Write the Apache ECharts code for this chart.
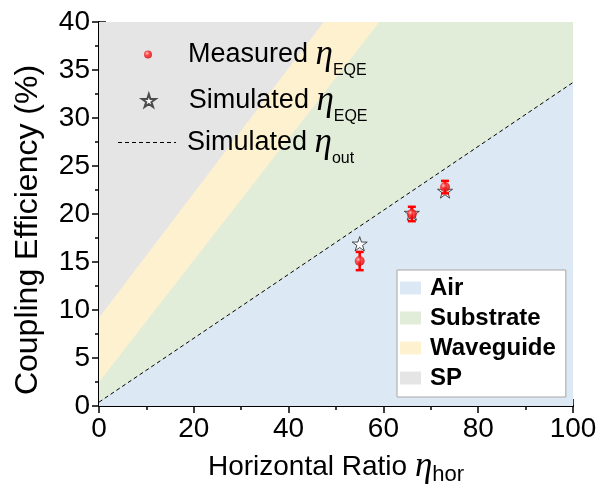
<!DOCTYPE html>
<html>
<head>
<meta charset="utf-8">
<script src="https://cdn.jsdelivr.net/npm/echarts@6/dist/echarts.min.js"></script>
<style>
html, body { margin: 0; padding: 0; background: #fff; }
#chart { width: 615px; height: 491px; }
</style>
</head>
<body>
<div id="chart"></div>
<script>
// measured / simulated points
const ratio = [55, 66, 73];
const measured = [15.1, 20.0, 22.8];
const measuredErr = [0.95, 0.75, 0.65];
const simulated = [16.9, 20.1, 22.4];

// region boundaries, evaluated at x = 0 and x = 100
const boundaryX = [0, 100];
const airTop = [0.4, 33.7];        // also the simulated eta_out line
const substrateTop = [2.5, 65.9];
const waveguideTop = [9.2, 74.2];
const spTop = [40, 40];

const xTicks = [0, 20, 40, 60, 80, 100];
const yTicks = [0, 5, 10, 15, 20, 25, 30, 35, 40];

const SANS = "Liberation Sans, Arial, sans-serif";
const SERIF = "Liberation Serif, Times New Roman, serif";
const STAR = "path://M50,2 L61.2,36.6 L97.6,36.6 L68.2,58 L79.4,92.6 L50,71.2 L20.6,92.6 L31.8,58 L2.4,36.6 L38.8,36.6 Z";
// short dashes for the legend icon of the dashed line
const DASH = "path://M0,0h4v1h-4z M7,0h4v1h-4z M14,0h4v1h-4z M21,0h4v1h-4z M28,0h4v1h-4z M35,0h4v1h-4z M42,0h4v1h-4z M49,0h4v1h-4z M56,0h2v1h-2z";

function pairs(ys) {
  return boundaryX.map((x, i) => [x, ys[i]]);
}

function regionSeries(name, ys, color) {
  return {
    name: name,
    type: "line",
    data: pairs(ys),
    symbol: "none",
    itemStyle: { color: color },
    lineStyle: { width: 0, color: color },
    areaStyle: { color: color, opacity: 1 },
    silent: true
  };
}

const chart = echarts.init(document.getElementById("chart"));

const topRich = {
  m: { fontSize: 27, lineHeight: 48, fontFamily: SANS, color: "#000", padding: [0, 0, 0, 6] },
  eta: { fontSize: 35, lineHeight: 48, fontFamily: SERIF, fontStyle: "italic", color: "#000" },
  sub: { fontSize: 16, lineHeight: 16, fontFamily: SANS, color: "#000", verticalAlign: "bottom" }
};

// left is the left edge of the drawn icon (legend aligns its bounding box)
function topLegend(name, icon, label, sub, left, top, h) {
  return {
    data: [{ name: name, icon: icon }],
    left: left,
    top: top,
    padding: 0,
    itemWidth: 58,
    itemHeight: h,
    selectedMode: false,
    formatter: () => "{m|" + label + " }{eta|η}{sub|" + sub + "}",
    textStyle: { rich: topRich }
  };
}

const axisCommon = {
  axisLine: { lineStyle: { color: "#000", width: 2 } },
  axisTick: { inside: true, length: 7, lineStyle: { color: "#000", width: 1.5 } },
  minorTick: { show: true, splitNumber: 2, length: 4, lineStyle: { color: "#000", width: 1.5 } },
  splitLine: { show: false }
};

chart.setOption({
  animation: false,
  backgroundColor: "#fff",
  grid: { left: 99, top: 22, width: 474, height: 384 },
  xAxis: [
    Object.assign({
      type: "value", min: xTicks[0], max: xTicks[xTicks.length - 1], interval: 20,
      name: "Horizontal Ratio {eta|η}{sub|hor}",
      nameLocation: "middle",
      nameGap: 35,
      nameTextStyle: {
        fontSize: 28, lineHeight: 38, fontFamily: SANS, color: "#000",
        rich: {
          eta: { fontSize: 35, lineHeight: 38, fontFamily: SERIF, fontStyle: "italic", color: "#000" },
          sub: { fontSize: 22, lineHeight: 22, fontFamily: SANS, color: "#000", verticalAlign: "bottom" }
        }
      },
      axisLabel: { fontSize: 28, fontFamily: SANS, color: "#000", margin: 9 }
    }, axisCommon),
    Object.assign({
      type: "value", position: "top", min: 0, max: 100, interval: 20,
      axisLabel: { show: false }
    }, axisCommon)
  ],
  yAxis: [
    Object.assign({
      type: "value", min: yTicks[0], max: yTicks[yTicks.length - 1], interval: 5,
      name: "Coupling Efficiency (%)",
      nameLocation: "middle",
      nameGap: 55,
      nameTextStyle: { fontSize: 32, fontFamily: SANS, color: "#000", padding: [0, 32, 0, 0] },
      axisLabel: { fontSize: 28, fontFamily: SANS, color: "#000", margin: 9 }
    }, axisCommon),
    Object.assign({
      type: "value", position: "right", min: 0, max: 40, interval: 5,
      axisLabel: { show: false }
    }, axisCommon)
  ],
  legend: [
    topLegend("Measured", "circle", "Measured", "EQE", 144, 37, 8),
    topLegend("SimEQE", STAR, "Simulated", "EQE", 141, 83, 13),
    topLegend("SimOut", DASH, "Simulated", "out", 118, 125, 1),
    {
      data: ["Air", "Substrate", "Waveguide", "SP"],
      orient: "vertical",
      left: 397,
      top: 270,
      padding: [6, 10, 7, 3],
      itemWidth: 21,
      itemHeight: 13,
      itemGap: 6,
      icon: "rect",
      selectedMode: false,
      backgroundColor: "#fff",
      borderColor: "#a6a6a6",
      borderWidth: 1,
      textStyle: { fontSize: 24, lineHeight: 24, fontWeight: "bold", fontFamily: SANS, color: "#000", padding: [0, 0, 0, 4] }
    }
  ],
  series: [
    regionSeries("SP", spTop, "#e5e5e5"),
    regionSeries("Waveguide", waveguideTop, "#fdf1cf"),
    regionSeries("Substrate", substrateTop, "#e2edd9"),
    regionSeries("Air", airTop, "#dce8f4"),
    {
      name: "SimOut",
      type: "line",
      data: pairs(airTop),
      symbol: "none",
      itemStyle: { color: "#000" },
      lineStyle: { color: "#000", width: 1, type: [4, 3] },
      z: 5
    },
    {
      name: "SimEQE",
      type: "scatter",
      data: ratio.map((x, i) => [x, simulated[i]]),
      symbol: STAR,
      symbolSize: 15,
      symbolKeepAspect: true,
      itemStyle: { color: "#fff", borderColor: "#222", borderWidth: 1 },
      z: 6
    },
    {
      name: "ErrBar",
      type: "custom",
      data: ratio.map((x, i) => [x, measured[i], measuredErr[i]]),
      encode: { x: 0, y: 1 },
      z: 7,
      renderItem: function (params, api) {
        const x = api.value(0), y = api.value(1), e = api.value(2);
        const hi = api.coord([x, y + e]);
        const lo = api.coord([x, y - e]);
        const w = 4;
        const st = { stroke: "#ff0000", lineWidth: 2.5 };
        return {
          type: "group",
          children: [
            { type: "line", shape: { x1: hi[0], y1: hi[1], x2: lo[0], y2: lo[1] }, style: st },
            { type: "line", shape: { x1: hi[0] - w, y1: hi[1], x2: hi[0] + w, y2: hi[1] }, style: st },
            { type: "line", shape: { x1: lo[0] - w, y1: lo[1], x2: lo[0] + w, y2: lo[1] }, style: st }
          ]
        };
      }
    },
    {
      name: "Measured",
      type: "scatter",
      data: ratio.map((x, i) => [x, measured[i]]),
      symbol: "circle",
      symbolSize: 10,
      itemStyle: {
        color: {
          type: "radial", x: 0.38, y: 0.35, r: 0.7,
          colorStops: [
            { offset: 0, color: "#ffd0d0" },
            { offset: 0.35, color: "#ff2a2a" },
            { offset: 1, color: "#d40000" }
          ]
        }
      },
      z: 8
    }
  ]
});
</script>
</body>
</html>
